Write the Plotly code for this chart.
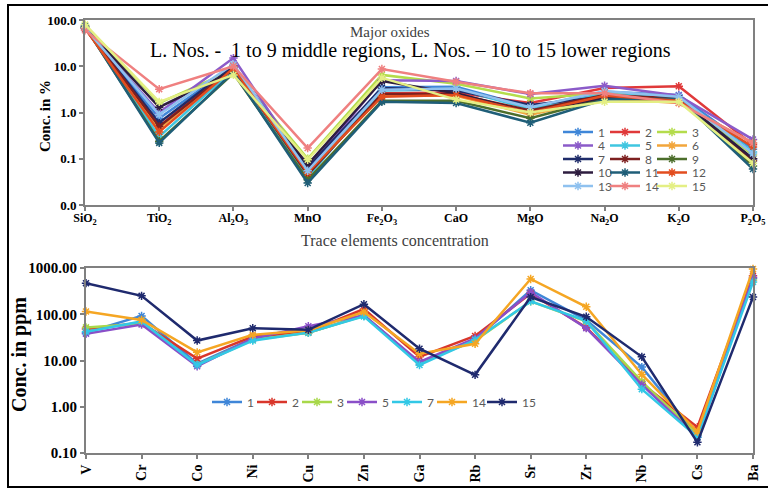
import plotly.graph_objects as go

# ---------------- data: major oxides (%) ----------------
oxides = ["SiO<sub>2</sub>", "TiO<sub>2</sub>", "Al<sub>2</sub>O<sub>3</sub>", "MnO",
          "Fe<sub>2</sub>O<sub>3</sub>", "CaO", "MgO", "Na<sub>2</sub>O", "K<sub>2</sub>O",
          "P<sub>2</sub>O<sub>5</sub>"]
ox_names = [str(i) for i in range(1, 16)]
ox1 = [68, 0.75, 10.0, 0.050, 3.5, 3.6, 1.30, 2.8, 2.4, 0.16]
ox2 = [66, 0.50, 10.5, 0.055, 2.6, 2.7, 1.60, 3.4, 3.7, 0.20]
ox3 = [78, 1.60, 8.5, 0.100, 6.5, 4.2, 2.00, 2.6, 2.0, 0.12]
ox4 = [65, 1.00, 15.0, 0.060, 5.0, 4.8, 2.50, 3.8, 2.3, 0.26]
ox5 = [70, 0.30, 8.5, 0.040, 3.0, 3.2, 1.20, 2.5, 2.1, 0.14]
ox6 = [67, 0.45, 9.5, 0.050, 2.3, 2.3, 0.90, 2.0, 1.6, 0.22]
ox7 = [66, 0.60, 10.0, 0.065, 3.4, 3.0, 1.45, 2.2, 2.0, 0.10]
ox8 = [70, 0.50, 9.0, 0.045, 2.5, 2.5, 1.10, 2.4, 2.0, 0.09]
ox9 = [72, 0.24, 7.0, 0.035, 1.8, 1.8, 0.75, 2.0, 1.9, 0.07]
ox10 = [70, 1.30, 8.0, 0.075, 4.8, 2.6, 1.00, 2.1, 1.9, 0.10]
ox11 = [74, 0.22, 7.5, 0.030, 1.7, 1.6, 0.60, 1.9, 2.0, 0.06]
ox12 = [66, 0.38, 9.0, 0.050, 2.2, 2.4, 1.00, 2.3, 1.8, 0.18]
ox13 = [68, 0.90, 11.0, 0.055, 3.1, 3.3, 1.30, 2.9, 2.2, 0.13]
ox14 = [60, 3.20, 10.0, 0.170, 8.7, 4.6, 2.60, 2.6, 1.6, 0.22]
ox15 = [80, 1.70, 6.5, 0.095, 5.6, 1.9, 1.00, 1.7, 1.7, 0.08]
ox_series = [ox1, ox2, ox3, ox4, ox5, ox6, ox7, ox8, ox9, ox10, ox11, ox12, ox13, ox14, ox15]
ox_ticks = [0.01, 0.1, 1, 10, 100]
ox_ticktext = ["0.0", "0.1", "1.0", "10.0", "100.0"]

# ---------------- data: trace elements (ppm) ----------------
elements = ["V", "Cr", "Co", "Ni", "Cu", "Zn", "Ga", "Rb", "Sr", "Zr", "Nb", "Cs", "Ba"]
tr_names = ["1", "2", "3", "5", "7", "14", "15"]
tr1 = [40, 92, 8.5, 30, 40, 95, 9.0, 28, 330, 75, 7.2, 0.24, 600]
tr2 = [48, 65, 11.0, 33, 42, 130, 12.0, 34, 280, 52, 3.2, 0.36, 680]
tr3 = [52, 62, 8.0, 28, 40, 92, 9.0, 27, 190, 70, 3.5, 0.25, 550]
tr5 = [38, 60, 7.5, 30, 55, 95, 9.3, 30, 300, 50, 3.0, 0.22, 620]
tr7 = [42, 70, 8.0, 27, 40, 90, 8.0, 28, 190, 72, 2.4, 0.22, 500]
tr14 = [115, 75, 15.0, 36, 45, 112, 14.0, 23, 580, 145, 5.0, 0.29, 950]
tr15 = [470, 250, 27.0, 50, 46, 165, 18.0, 4.9, 235, 88, 12.0, 0.17, 235]
tr_series = [tr1, tr2, tr3, tr5, tr7, tr14, tr15]
tr_ticks = [0.1, 1, 10, 100, 1000]
tr_ticktext = ["0.10", "1.00", "10.00", "100.00", "1000.00"]

# ---------------- styles ----------------
ox_colors = ["#3f86d8", "#e0393a", "#b4dc4c", "#8b5bc9", "#3fc6e0", "#f2a63c",
             "#1f2c6a", "#7d2020", "#4c6e2b", "#2e1d3f", "#1f5e78", "#e24d1f",
             "#8fc1ef", "#ef8080", "#e4ef84"]
tr_colors = ["#3f86d8", "#d9362b", "#a8d84a", "#8a4fc8", "#32c8e6", "#f5a623", "#1f2a6e"]

SERIF = "Liberation Serif"
W, H = 768, 490
LEG_FONT = dict(family="Lato", size=12, color="#595959")

fig = go.Figure()
legends = {}

# top legend: 3 columns x 5 rows, one single-entry legend per series
for i, (name, vals) in enumerate(zip(ox_names, ox_series)):
    lg = "legend" if i == 0 else "legend%d" % (i + 1)
    col, row = i % 3, i // 3
    sym_x = 563 + 47 * col
    row_y = 132 + 13.5 * row
    legends[lg] = dict(x=(sym_x - 5) / W, y=1 - (row_y - 14.5) / H, xanchor="left",
                       yanchor="top", bgcolor="rgba(0,0,0,0)", font=LEG_FONT,
                       itemwidth=30, borderwidth=0, visible=True)
    fig.add_trace(go.Scatter(
        x=list(range(len(oxides))), y=vals, name=name, mode="lines+markers",
        line=dict(color=ox_colors[i], width=2.5),
        marker=dict(symbol="asterisk-open", size=7, line=dict(color=ox_colors[i], width=1.5)),
        cliponaxis=False, xaxis="x", yaxis="y", legend=lg, showlegend=True))

# bottom legend: single row
for i, (name, vals) in enumerate(zip(tr_names, tr_series)):
    lg = "legend%d" % (16 + i)
    sym_x = 212 + 45 * i + (5 if i == 6 else 0)
    legends[lg] = dict(x=(sym_x - 5) / W, y=1 - (402 - 14.5) / H, xanchor="left",
                       yanchor="top", bgcolor="rgba(0,0,0,0)", font=LEG_FONT,
                       itemwidth=30, borderwidth=0, visible=True)
    fig.add_trace(go.Scatter(
        x=list(range(len(elements))), y=vals, name=name, mode="lines+markers",
        line=dict(color=tr_colors[i], width=2.5),
        marker=dict(symbol="asterisk-open", size=7, line=dict(color=tr_colors[i], width=1.5)),
        cliponaxis=False, xaxis="x2", yaxis="y2", legend=lg, showlegend=True))

axis_common = dict(showline=True, linecolor="#808080", linewidth=2, mirror=True,
                   showgrid=False, zeroline=False, ticks="outside", tickcolor="#808080",
                   ticklen=4, tickwidth=1.5, automargin=False)

def label(text, x, y, size, color="black", angle=0, bold=False):
    return dict(text=text, x=x / W, y=1 - y / H, xref="paper", yref="paper",
                xanchor="center", yanchor="middle", showarrow=False, textangle=angle,
                font=dict(family=SERIF, size=size, color=color,
                          weight="bold" if bold else "normal"))

fig.update_layout(
    width=W, height=H, showlegend=True,
    margin=dict(l=0, r=0, t=0, b=0, autoexpand=False),
    paper_bgcolor="white", plot_bgcolor="white",
    font=dict(family=SERIF, color="black"),
    xaxis=dict(domain=[85 / W, 753 / W], anchor="y", range=[0, len(oxides) - 1],
               tickmode="array", tickvals=list(range(len(oxides))), ticktext=oxides,
               tickfont=dict(family=SERIF, size=12, weight="bold"),
               ticklabelstandoff=-3, **axis_common),
    yaxis=dict(domain=[1 - 205 / H, 1 - 20 / H], anchor="x", type="log", range=[-2, 2],
               tickmode="array", tickvals=ox_ticks, ticktext=ox_ticktext,
               tickfont=dict(family=SERIF, size=13, weight="bold"), **axis_common),
    xaxis2=dict(domain=[86 / W, 753 / W], anchor="y2", range=[0, len(elements) - 1],
                tickmode="array", tickvals=list(range(len(elements))), ticktext=elements,
                tickangle=-90, tickfont=dict(family=SERIF, size=14, weight="bold"),
                **axis_common),
    yaxis2=dict(domain=[1 - 453 / H, 1 - 268 / H], anchor="x2", type="log", range=[-1, 3],
                tickmode="array", tickvals=tr_ticks, ticktext=tr_ticktext,
                tickfont=dict(family=SERIF, size=15, weight="bold"), **axis_common),
    annotations=[
        label("Conc. in %", 45, 116, 15, angle=-90, bold=True),
        label("Conc. in ppm", 19, 355, 20, angle=-90, bold=True),
        label("Major oxides", 390, 32, 15, color="#404040"),
        label("L. Nos. -  1 to 9 middle regions, L. Nos. \u2013 10 to 15 lower regions",
              410, 50, 20),
        label("Trace elements concentration", 395, 240, 16, color="#404040"),
    ],
    shapes=[dict(type="rect", xref="paper", yref="paper", x0=8 / W, x1=1.02,
                 y0=1 - 487 / H, y1=1 - 5 / H, line=dict(color="black", width=2),
                 fillcolor="rgba(0,0,0,0)", layer="below")],
    **legends,
)

fig.write_html("out.html", config={"displayModeBar": False},
               post_script="document.body.style.margin='0';document.body.style.overflow='hidden';")
